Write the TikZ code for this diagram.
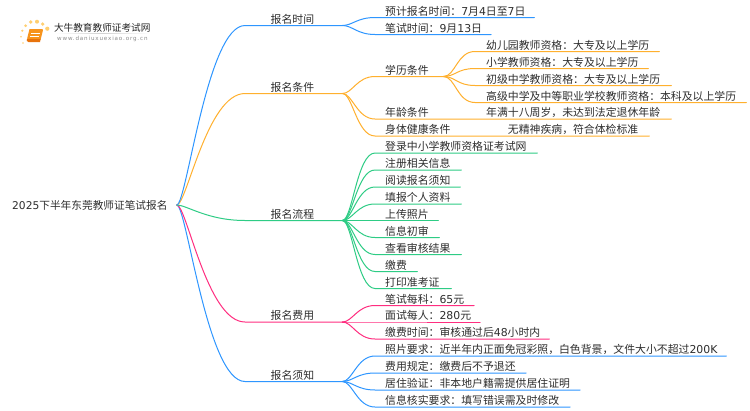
\documentclass[tikz,border=0pt]{standalone}
\usepackage{fontspec}
\setmainfont{Noto Sans CJK SC}
\newfontfamily\djfont{DejaVu Sans}
\usetikzlibrary{calc}
\definecolor{cblue}{HTML}{2E96FF}
\definecolor{corange}{HTML}{FFB02E}
\definecolor{cgreen}{HTML}{2ECC85}
\definecolor{cpink}{HTML}{FF2E80}
\definecolor{ink}{HTML}{2E2E2E}
\definecolor{dotc}{HTML}{FFCF70}
\definecolor{bookc}{HTML}{F7941D}
\definecolor{bookd}{HTML}{E8730C}
\newcommand\Dg[1]{{\djfont #1}}
% \mapn{name}{x0}{y}{x1}{text offset}{text}
\newcommand\mapn[6]{%
  \pgfmathsetlengthmacro\mnlen{#4-#2}%
  \node[mapnode] (#1) at (#2,#3) {\makebox[\mnlen][l]{\hspace*{#5pt}\raisebox{1.8pt}[0pt][0pt]{\smash{#6}}}};}
\tikzset{
  mapnode/.style={anchor=south west,inner sep=0pt,text=ink,font=\fontsize{10.87}{12}\selectfont},
  rootlink/.style={line width=1pt,line cap=round},
  branch/.style={line width=1pt,line cap=round},
  logotxt/.style={inner sep=0pt,anchor=west}
}
\newcommand\rlink[2]{\draw[rootlink,#1] (root.east) .. controls +(10,0) and ($(#2.south west)+(-38,0)$) .. (#2.south west) -- (#2.south east);}
\newcommand\blink[3]{\draw[branch,#1] (#2.south east) .. controls +(10,0) and ($(#3.south west)+(-18,0)$) .. (#3.south west) -- (#3.south east);}
\begin{document}
\begin{tikzpicture}[x=1pt,y=-1pt]
\useasboundingbox (0,0) rectangle (750,410);
\fill[white] (0,0) rectangle (750,410);
% logo
\foreach \px/\py/\r in {47.3/28.7/2.1,42.7/24/1.8,37/21.7/2.0,30.7/22/1.9,25.7/25.7/1.5,22.3/30.7/1.2,21/36.7/0.9,23/43/0.8}
  \fill[dotc] (\px,\py) circle[radius=\r];
\fill[bookc] (29.5,29) -- (42,29) .. controls (43,29) and (43.2,30) .. (42.8,31) -- (40.5,40) -- (28,40) .. controls (27,40) and (27,39.5) .. (27.3,38) -- cycle;
\fill[bookd] (27,39) -- (40.5,39) -- (40,42) -- (28.5,42) .. controls (26.5,42) and (26.3,40) .. (27,39) -- cycle;
\draw[white,line width=.6pt] (31,33) -- (39.5,33) (30.3,36) -- (38.8,36);
\node[logotxt,text=black!85,font=\fontsize{9.65}{11}\selectfont] (logotitle) at (53.8,27.5) {大牛教育教师证考试网};
\shade[left color=white,right color=white,middle color=black!18] (55,33) rectangle (150,33.6);
\node[logotxt,text=black!45,font=\djfont\fontsize{5.6}{7}\selectfont\addfontfeature{LetterSpace=15}] (logourl) at (57,39) {www.daniuxuexiao.org.cn};
% root
\node[text=ink,inner sep=0pt,anchor=west,font=\fontsize{10.68}{12}\selectfont,minimum height=12pt] (root) at (12,205) {\Dg{2025}下半年东莞教师证笔试报名\rule{9pt}{0pt}};
% level 1
\mapn{t}{245}{25.5}{342}{25.5}{报名时间}
\mapn{c}{245}{93.5}{342}{25.5}{报名条件}
\mapn{l}{245}{220.5}{342}{25.5}{报名流程}
\mapn{f}{245}{322}{342}{25.5}{报名费用}
\mapn{x}{245}{381.5}{342}{25.5}{报名须知}
% time
\mapn{t1}{375}{17.5}{534}{10}{预计报名时间：\Dg{7}月\Dg{4}日至\Dg{7}日}
\mapn{t2}{375}{34.5}{490.6}{10}{笔试时间：\Dg{9}月\Dg{13}日}
% conditions
\mapn{c1}{375}{76.5}{443}{10}{学历条件}
\mapn{c2}{375}{119}{671}{10}{\makebox[101pt][l]{年龄条件}年满十八周岁，未达到法定退休年龄}
\mapn{c3}{375}{136}{649}{10}{\makebox[122.7pt][l]{身体健康条件}无精神疾病，符合体检标准}
\mapn{e1}{475}{51.5}{659}{11}{幼儿园教师资格：大专及以上学历}
\mapn{e2}{475}{68.5}{648}{11}{小学教师资格：大专及以上学历}
\mapn{e3}{475}{85.5}{671}{11}{初级中学教师资格：大专及以上学历}
\mapn{e4}{475}{102.5}{746}{11}{高级中学及中等职业学校教师资格：本科及以上学历}
% process
\mapn{l1}{375}{153}{537}{10}{登录中小学教师资格证考试网}
\mapn{l2}{375}{170}{461}{10}{注册相关信息}
\mapn{l3}{375}{187}{460}{10}{阅读报名须知}
\mapn{l4}{375}{204}{461}{10}{填报个人资料}
\mapn{l5}{375}{220.5}{438}{10}{上传照片}
\mapn{l6}{375}{237.5}{439}{10}{信息初审}
\mapn{l7}{375}{254.5}{461}{10}{查看审核结果}
\mapn{l8}{375}{271.5}{417}{10}{缴费}
\mapn{l9}{375}{288.5}{451}{10}{打印准考证}
% fee
\mapn{f1}{375}{305.5}{473.7}{10}{笔试每科：\Dg{65}元}
\mapn{f2}{375}{322}{479.7}{10}{面试每人：\Dg{280}元}
\mapn{f3}{375}{339}{549}{10}{缴费时间：审核通过后\Dg{48}小时内}
% notes
\mapn{x1}{375}{356}{726}{10}{照片要求：近半年内正面免冠彩照，白色背景，文件大小不超过\Dg{200K}}
\mapn{x2}{375}{373}{525.7}{10}{费用规定：缴费后不予退还}
\mapn{x3}{375}{390}{579.7}{10}{居住验证：非本地户籍需提供居住证明}
\mapn{x4}{375}{407}{569.7}{10}{信息核实要求：填写错误需及时修改}
% connectors
\rlink{cblue}{x}
\rlink{cpink}{f}
\rlink{cgreen}{l}
\rlink{corange}{c}
\rlink{cblue}{t}
\blink{cblue}{t}{t1}
\blink{cblue}{t}{t2}
\blink{corange}{c}{c1}
\blink{corange}{c}{c2}
\blink{corange}{c}{c3}
\foreach \k in {e1,e2,e3,e4}{\draw[branch,corange] (c1.south east) .. controls +(12,0) and ($(\k.south west)+(-18,0)$) .. (\k.south west) -- (\k.south east);}
\foreach \k in {l1,l2,l3,l4,l5,l6,l7,l8,l9}{\blink{cgreen}{l}{\k}}
\foreach \k in {f1,f2,f3}{\blink{cpink}{f}{\k}}
\foreach \k in {x1,x2,x3,x4}{\blink{cblue}{x}{\k}}
\end{tikzpicture}
\end{document}
